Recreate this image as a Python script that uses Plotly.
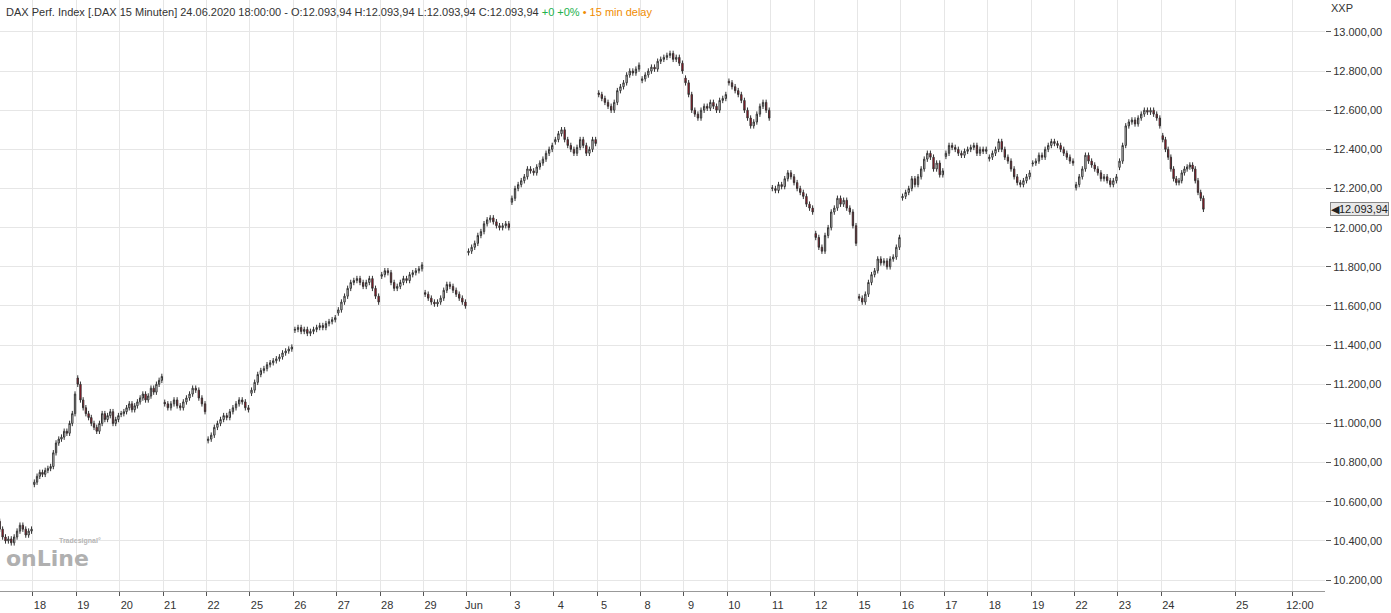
import plotly.graph_objects as go

day_labels = ["15", "18", "19", "20", "21", "22", "25", "26", "27", "28", "29", "Jun", "3", "4", "5",
              "8", "9", "10", "11", "12", "15", "16", "17", "18", "19", "22", "23", "24"]
day_closes = [
    [10540, 10520, 10500, 10460, 10420, 10400, 10410, 10390, 10420, 10450, 10480, 10460, 10430, 10450, 10460],
    [10700, 10730, 10750, 10740, 10760, 10770, 10780, 10850, 10900, 10920, 10930, 10960, 10950, 11000, 11050, 11150],
    [11200, 11120, 11080, 11050, 11030, 11000, 10980, 10960, 11000, 11050, 11020, 11040, 11060, 11000, 11020, 11040],
    [11050, 11060, 11080, 11100, 11070, 11090, 11110, 11130, 11150, 11120, 11140, 11180, 11160, 11200, 11220, 11240],
    [11100, 11080, 11100, 11120, 11090, 11080, 11110, 11130, 11150, 11180, 11170, 11130, 11100, 11060],
    [10920, 10940, 10980, 11000, 11020, 11040, 11030, 11060, 11080, 11100, 11120, 11110, 11080, 11070],
    [11170, 11210, 11250, 11270, 11280, 11300, 11310, 11320, 11330, 11340, 11360, 11370, 11380, 11390],
    [11480, 11490, 11470, 11480, 11460, 11470, 11480, 11490, 11500, 11490, 11510, 11520, 11530, 11540],
    [11580, 11620, 11650, 11690, 11720, 11730, 11740, 11720, 11700, 11720, 11740, 11690, 11650, 11620],
    [11760, 11780, 11770, 11720, 11690, 11700, 11720, 11740, 11730, 11760, 11770, 11780, 11790, 11810],
    [11660, 11640, 11620, 11610, 11620, 11640, 11680, 11710, 11700, 11680, 11660, 11640, 11620, 11600],
    [11880, 11900, 11920, 11960, 11980, 12020, 12040, 12050, 12030, 12010, 12000, 12010, 12020, 12000],
    [12150, 12200, 12220, 12240, 12260, 12300, 12290, 12280, 12310, 12330, 12350, 12380, 12400, 12420],
    [12450, 12480, 12500, 12450, 12420, 12400, 12380, 12410, 12450, 12420, 12380, 12400, 12450, 12430],
    [12680, 12660, 12640, 12620, 12600, 12640, 12700, 12720, 12740, 12780, 12800, 12790, 12810, 12830],
    [12760, 12780, 12800, 12820, 12810, 12850, 12860, 12870, 12880, 12890, 12860, 12870, 12840, 12800],
    [12740, 12680, 12600, 12580, 12560, 12600, 12620, 12610, 12640, 12620, 12600, 12650, 12660, 12680],
    [12740, 12720, 12700, 12680, 12650, 12600, 12560, 12520, 12540, 12580, 12620, 12640, 12600, 12560],
    [12200, 12190, 12220, 12210, 12250, 12280, 12260, 12230, 12200, 12180, 12160, 12120, 12100, 12080],
    [11950, 11900, 11880, 11960, 12000, 12080, 12100, 12150, 12120, 12140, 12100, 12080, 12010, 11920],
    [11640, 11620, 11660, 11720, 11760, 11780, 11840, 11820, 11830, 11800, 11840, 11850, 11900, 11950],
    [12160, 12180, 12200, 12250, 12220, 12260, 12300, 12350, 12380, 12360, 12300, 12330, 12270, 12290],
    [12380, 12420, 12410, 12400, 12380, 12370, 12390, 12400, 12410, 12420, 12380, 12400, 12390, 12400],
    [12360, 12380, 12400, 12440, 12400, 12360, 12340, 12300, 12260, 12230, 12220, 12240, 12260, 12280],
    [12330, 12340, 12370, 12360, 12400, 12420, 12440, 12430, 12420, 12400, 12380, 12360, 12340, 12330],
    [12220, 12260, 12300, 12370, 12340, 12320, 12300, 12280, 12250, 12260, 12240, 12220, 12240, 12260],
    [12340, 12420, 12520, 12540, 12550, 12530, 12560, 12580, 12600, 12590, 12600, 12580, 12560, 12520],
    [12450, 12400, 12360, 12300, 12250, 12230, 12240, 12280, 12300, 12310, 12320, 12300, 12240, 12180, 12150, 12094],
]
last_price = 12093.94
y_ticks = [10200, 10400, 10600, 10800, 11000, 11200, 11400, 11600, 11800, 12000,
           12200, 12400, 12600, 12800, 13000]
extra_ticks = [(28.7, "25"), (30.03, "12:00")]

xs, o, h, l, c = [], [], [], [], []
prev = None
for k, closes in enumerate(day_closes):
    n = len(closes)
    for i, v in enumerate(closes):
        op = v - (closes[1] - v) * 0.4 if i == 0 else prev
        xs.append(k + (i + 0.5) / n)
        o.append(op); c.append(v)
        h.append(max(op, v) + 14); l.append(min(op, v) - 14)
        prev = v

def de(v):
    s = f"{v:,.2f}"
    return s.replace(",", "X").replace(".", ",").replace("X", ".")

fig = go.Figure(go.Candlestick(
    x=xs, open=o, high=h, low=l, close=c,
    increasing=dict(line=dict(color="#333333", width=1), fillcolor="#ffffff"),
    decreasing=dict(line=dict(color="#333333", width=1), fillcolor="#d0021b"),
    whiskerwidth=0, showlegend=False, hoverinfo="skip"))

tickvals = [k for k in range(1, len(day_labels))] + [t[0] for t in extra_ticks]
ticktext = day_labels[1:] + [t[1] for t in extra_ticks]

fig.update_layout(
    width=1391, height=613, margin=dict(l=0, r=66, t=0, b=22),
    paper_bgcolor="white", plot_bgcolor="white",
    font=dict(family="Liberation Sans", size=11, color="#333333"),
    xaxis=dict(range=[0.24, 30.77], tickvals=tickvals, ticktext=ticktext, automargin=False,
               showgrid=True, gridcolor="#e6e6e6", ticks="outside", ticklen=4,
               tickcolor="#555", showline=True, linecolor="#999",
               rangeslider=dict(visible=False), ticklabelshift=7, zeroline=False),
    yaxis=dict(side="right", range=[10144, 13163], tickvals=y_ticks, automargin=False,
               ticktext=[de(v) for v in y_ticks], showgrid=True, gridcolor="#e6e6e6",
               ticks="outside", ticklen=5, tickcolor="#555", zeroline=False),
    annotations=[
        dict(xref="paper", yref="paper", x=0.003, y=0.993, xanchor="left", yanchor="top",
             showarrow=False, font=dict(size=11, color="#333"),
             text="DAX Perf. Index [.DAX 15 Minuten] 24.06.2020 18:00:00 - O:12.093,94 H:12.093,94 L:12.093,94 C:12.093,94 "
                  "<span style='color:#22b14c'>+0 +0%</span> <span style='color:#f08c00'>• 15 min delay</span>"),
        dict(xref="paper", yref="paper", x=1.003, y=1.0, xanchor="left", yanchor="top",
             showarrow=False, text="XXP", font=dict(size=11, color="#333")),
        dict(xref="paper", yref="y", x=1.004, y=last_price, xanchor="left", yanchor="middle",
             showarrow=False, text="◀" + de(last_price), bgcolor="#e8e8e8", bordercolor="#888",
             borderwidth=1, borderpad=0, font=dict(size=11, color="#222")),
        dict(xref="paper", yref="paper", x=0.003, y=0.03, xanchor="left", yanchor="bottom",
             showarrow=False, text="<b>onLine</b>", font=dict(family="DejaVu Sans", size=22, color="#b0b0b0")),
        dict(xref="paper", yref="paper", x=0.043, y=0.075, xanchor="left", yanchor="bottom",
             showarrow=False, text="<b>Tradesignal°</b>", font=dict(size=7, color="#b5b5b5")),
    ],
)
fig.write_html("out.html", config={"displayModeBar": False},
               post_script="document.body.style.margin='0';document.body.style.overflow='hidden';")
